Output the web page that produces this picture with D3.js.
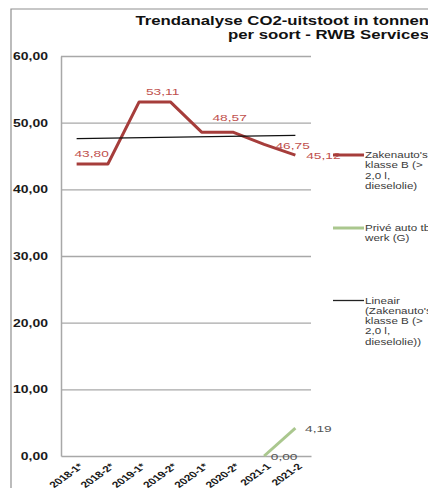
<!DOCTYPE html>
<html>
<head>
<meta charset="utf-8">
<script src="https://cdn.jsdelivr.net/npm/d3@7"></script>
<style>
  body { margin: 0; background: #fff; }
  svg { display: block; font-family: "Liberation Sans", Arial, sans-serif; }
</style>
</head>
<body>
<svg id="chart" width="428" height="488"></svg>
<script>
const periods = ["2018-1*", "2018-2*", "2019-1*", "2019-2*", "2020-1*", "2020-2*", "2021-1", "2021-2"];
const zakenauto = [43.80, 43.80, 53.11, 53.11, 48.57, 48.57, 46.75, 45.12];
const priveAuto = [null, null, null, null, null, null, 0.00, 4.19];
const yTicks = [0, 10, 20, 30, 40, 50, 60];
const titleLines = ["Trendanalyse CO2-uitstoot in tonnen", "per soort - RWB Services"];
const legendNames = [
  ["Zakenauto's", "klasse B (>", "2,0 l,", "dieselolie)"],
  ["Privé auto tbv", "werk (G)"],
  ["Lineair", "(Zakenauto's", "klasse B (>", "2,0 l,", "dieselolie))"]
];

const SX = 1.4; // the picture is stretched sideways
const LEFT = 61, RIGHT = 311, TOP = 56, BOTTOM = 456;
const RED = "#a63d3b", RED_TEXT = "#c0504d", GREEN = "#aac78e";

const fmt = v => v.toFixed(2).replace(".", ",");
const wide = (x, y) => `translate(${x},${y}) scale(${SX},1)`;

const svg = d3.select("#chart");

const x = d3.scalePoint().domain(periods).range([LEFT, RIGHT]).padding(0.5);
const y = d3.scaleLinear().domain([0, 60]).range([BOTTOM, TOP]);

// frame
svg.append("path")
  .attr("d", "M11,488V9H428")
  .attr("fill", "none")
  .attr("stroke", "#8f8f8f")
  .attr("stroke-width", 1.2);

// title
svg.selectAll("text.title")
  .data(titleLines)
  .enter()
  .append("text")
  .attr("class", "title")
  .attr("transform", (d, i) => wide(429, 24.5 + i * 14))
  .attr("text-anchor", "end")
  .attr("font-size", "12px")
  .attr("font-weight", "bold")
  .attr("fill", "#111")
  .text(d => d);

// gridlines
svg.append("g")
  .attr("transform", `translate(${LEFT},0)`)
  .call(d3.axisLeft(y).tickValues(yTicks.filter(v => v > 0)).tickSize(-(RIGHT - LEFT)).tickFormat(""))
  .call(g => g.select(".domain").remove())
  .call(g => g.selectAll("line").attr("stroke", "#a8a8a8").attr("stroke-width", 1.3));

// y axis
svg.append("g")
  .attr("transform", `translate(${LEFT},0)`)
  .call(d3.axisLeft(y).tickValues(yTicks).tickSize(0).tickSizeOuter(0).tickFormat(fmt))
  .call(g => g.select(".domain").attr("stroke", "#a8a8a8").attr("stroke-width", 1.5))
  .call(g => g.selectAll("text")
    .attr("x", null).attr("dy", null)
    .attr("transform", wide(-13, 3.6))
    .attr("text-anchor", "end")
    .attr("font-size", "10px")
    .attr("font-weight", "bold")
    .attr("font-family", "Liberation Sans, Arial, sans-serif")
    .attr("fill", "#1a1a1a"));

// x axis
svg.append("g")
  .attr("transform", `translate(0,${BOTTOM})`)
  .call(d3.axisBottom(x).tickSize(0).tickSizeOuter(0))
  .call(g => g.select(".domain").attr("stroke", "#a8a8a8").attr("stroke-width", 1.5))
  .call(g => g.selectAll("text")
    .attr("y", null).attr("dy", null)
    .attr("transform", `translate(7,11) scale(${SX},1) rotate(-45)`)
    .attr("text-anchor", "end")
    .attr("font-size", "8.6px")
    .attr("font-weight", "bold")
    .attr("font-family", "Liberation Sans, Arial, sans-serif")
    .attr("fill", "#1a1a1a"));

const line = d3.line()
  .defined(d => d != null)
  .x((d, i) => x(periods[i]))
  .y(d => y(d));

// linear trend of the zakenauto series
const n = zakenauto.length;
const mx = d3.mean(zakenauto, (d, i) => i);
const my = d3.mean(zakenauto);
const slope = d3.sum(zakenauto, (d, i) => (i - mx) * (d - my)) / d3.sum(zakenauto, (d, i) => (i - mx) ** 2);
const trend = zakenauto.map((d, i) => my + slope * (i - mx));

svg.append("path")
  .attr("d", line(zakenauto))
  .attr("fill", "none")
  .attr("stroke", RED)
  .attr("stroke-width", 3)
  .attr("stroke-linejoin", "round");

svg.append("path")
  .attr("d", line(priveAuto))
  .attr("fill", "none")
  .attr("stroke", GREEN)
  .attr("stroke-width", 3);

svg.append("path")
  .attr("d", d3.line().x((d, i) => x(periods[i === 0 ? 0 : n - 1])).y(d => y(d))([trend[0], trend[n - 1]]))
  .attr("fill", "none")
  .attr("stroke", "#111")
  .attr("stroke-width", 1.1);

// data labels: [index, dx, dy]
const redLabels = [[0, 15, -7], [2, 23.5, -7], [4, 28, -11], [6, 28.5, 5], [7, 28, 4]];
const greenLabels = [[6, 20, 4], [7, 23, 4]];

svg.selectAll("text.red")
  .data(redLabels)
  .enter()
  .append("text")
  .attr("class", "red")
  .attr("transform", d => wide(x(periods[d[0]]) + d[1], y(zakenauto[d[0]]) + d[2]))
  .attr("text-anchor", "middle")
  .attr("font-size", "9.8px")
  .attr("fill", RED_TEXT)
  .text(d => fmt(zakenauto[d[0]]));

svg.selectAll("text.green")
  .data(greenLabels)
  .enter()
  .append("text")
  .attr("class", "green")
  .attr("transform", d => wide(x(periods[d[0]]) + d[1], y(priveAuto[d[0]]) + d[2]))
  .attr("text-anchor", "middle")
  .attr("font-size", "9.8px")
  .attr("fill", "#555")
  .text(d => fmt(priveAuto[d[0]]));

// legend
const legendY = [155, 228, 300.5];
const legendColor = [RED, GREEN, "#222"];
const legendWidth = [3, 3, 1.3];

const leg = svg.selectAll("g.legend")
  .data(legendNames)
  .enter()
  .append("g")
  .attr("class", "legend")
  .attr("transform", (d, i) => `translate(0,${legendY[i]})`);

leg.append("line")
  .attr("x1", 333).attr("x2", 364)
  .attr("stroke", (d, i) => legendColor[i])
  .attr("stroke-width", (d, i) => legendWidth[i]);

leg.selectAll("text")
  .data(d => d)
  .enter()
  .append("text")
  .attr("transform", (d, i) => wide(365, 3 + i * 10.3))
  .attr("font-size", "8.3px")
  .attr("fill", "#3a3a3a")
  .text(d => d);
</script>
</body>
</html>
